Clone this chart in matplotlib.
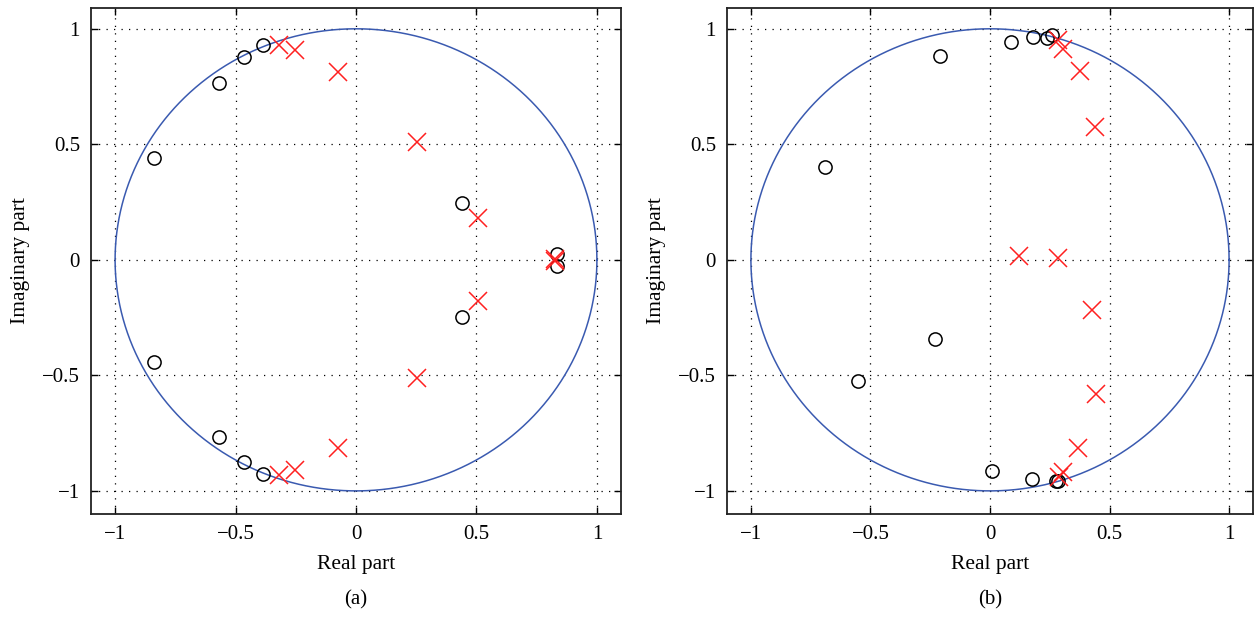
import numpy as np
import matplotlib.pyplot as plt

plt.rcParams['font.family'] = ['Liberation Serif', 'DejaVu Serif']
plt.rcParams['axes.unicode_minus'] = True

# panel (a): zeros and poles (real, imag)
zeros_a_re = [-0.84, -0.57, -0.465, -0.385, 0.44, 0.835,
              -0.84, -0.57, -0.465, -0.385, 0.44, 0.835]
zeros_a_im = [0.44, 0.765, 0.877, 0.928, 0.246, 0.026,
              -0.44, -0.765, -0.877, -0.928, -0.246, -0.026]
poles_a_re = [-0.32, -0.255, -0.073, 0.254, 0.506, 0.826,
              -0.32, -0.255, -0.073, 0.254, 0.506, 0.826]
poles_a_im = [0.932, 0.91, 0.815, 0.51, 0.183, 0.004,
              -0.932, -0.91, -0.815, -0.51, -0.18, -0.004]

# panel (b)
zeros_b_re = [-0.69, -0.21, 0.088, 0.179, 0.237, 0.26,
              -0.551, -0.231, 0.007, 0.175, 0.274, 0.284]
zeros_b_im = [0.40, 0.884, 0.944, 0.963, 0.96, 0.975,
              -0.523, -0.344, -0.913, -0.947, -0.956, -0.956]
poles_b_re = [0.121, 0.283, 0.284, 0.304, 0.378, 0.441,
              0.426, 0.444, 0.368, 0.304, 0.29]
poles_b_im = [0.016, 0.007, 0.95, 0.914, 0.816, 0.575,
              -0.215, -0.579, -0.815, -0.92, -0.942]

ticks = [-1, -0.5, 0, 0.5, 1]
tick_labels = ['\u22121', '\u22120.5', '0', '0.5', '1']

fig = plt.figure(figsize=(12.57, 6.17), dpi=100)
ax1 = fig.add_axes([91 / 1257, 1 - 514 / 617, 530 / 1257, 506 / 617])
ax2 = fig.add_axes([727 / 1257, 1 - 514 / 617, 526 / 1257, 506 / 617])

t = np.linspace(0, 2 * np.pi, 400)
panels = [(ax1, zeros_a_re, zeros_a_im, poles_a_re, poles_a_im, '(a)'),
          (ax2, zeros_b_re, zeros_b_im, poles_b_re, poles_b_im, '(b)')]

for ax, zr, zi, pr, pi, tag in panels:
    ax.plot(np.cos(t), np.sin(t), color='#3a5ab0', lw=1.1, zorder=2)
    ax.plot(zr, zi, 'o', mfc='none', mec='black', ms=9.5, mew=1.1, zorder=3)
    ax.plot(pr, pi, 'x', color='#ff2020', ms=12.5, mew=1.1, zorder=4)
    ax.set_xlim(-1.1, 1.1)
    ax.set_ylim(-1.1, 1.09)
    ax.set_xticks(ticks)
    ax.set_xticklabels(tick_labels)
    ax.set_yticks(ticks)
    ax.set_yticklabels(tick_labels)
    ax.grid(True, color='black', linestyle=(0, (1, 5)), lw=0.9)
    ax.tick_params(direction='in', length=5, width=1, top=True, right=True,
                   labelsize=15, pad=8)
    for s in ax.spines.values():
        s.set_linewidth(1.3)
        s.set_color('#222222')
    ax.set_xlabel('Real part', fontsize=15.5, labelpad=8)
    ax.set_ylabel('Imaginary part', fontsize=15.5, labelpad=9)
    ax.text(0.5, -0.17, tag, transform=ax.transAxes, ha='center',
            va='center', fontsize=15)

fig.savefig('out.png', dpi=100)
